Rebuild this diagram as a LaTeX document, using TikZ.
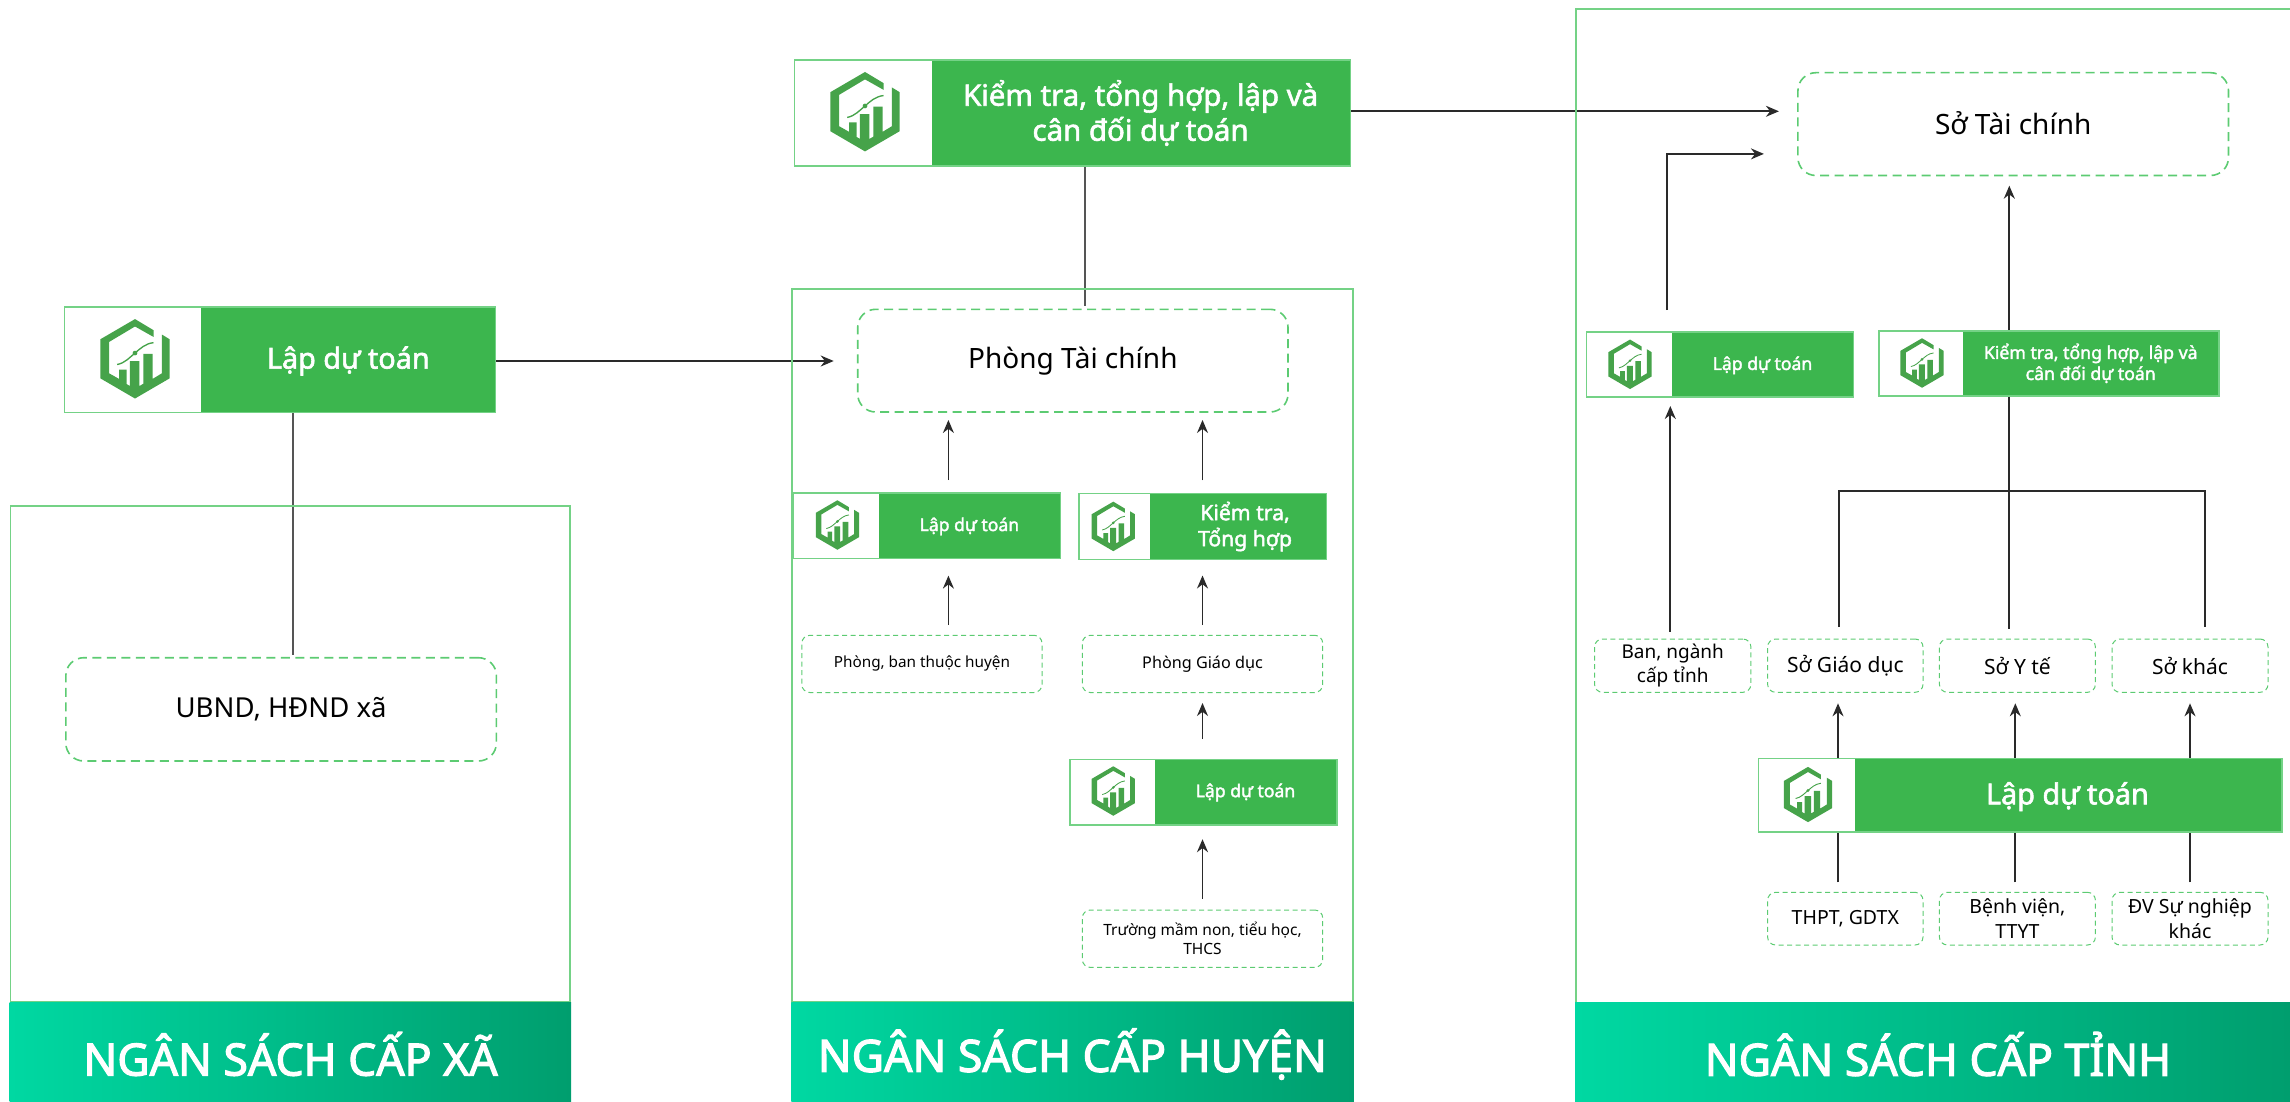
\documentclass[tikz,border=0pt]{standalone}
\usepackage{fontspec}
\setmainfont{Noto Sans}
\newfontfamily\medf[FakeBold=2]{Noto Sans}
\newfontfamily\banf[FakeBold=2.6]{Noto Sans}
\usetikzlibrary{arrows.meta,backgrounds}
\definecolor{gfill}{HTML}{3CB64E}
\definecolor{glogo}{HTML}{46A34A}
\definecolor{gline}{HTML}{74D286}
\definecolor{gdash}{HTML}{5CCB72}
\definecolor{bleft}{HTML}{00D8A2}
\definecolor{bright}{HTML}{009E6E}
\definecolor{dk}{HTML}{2A2A2A}
\definecolor{gy}{HTML}{555555}
\tikzset{
  panelbox/.style={draw=gline,line width=1.6pt,inner sep=0pt,outer sep=0pt},
  bannerbox/.style={left color=bleft,right color=bright,draw=none,inner sep=0pt,outer sep=0pt},
  bannertxt/.style={text=white,font=\banf\fontsize{44.5}{46}\selectfont,inner sep=0pt},
  stagebox/.style={fill=gfill,draw=gline,line width=1.6pt,inner sep=0pt,outer sep=0pt},
  whitebox/.style={fill=white,draw=none,inner sep=0pt,outer sep=0pt},
  stagetxt/.style={text=white,align=center,inner sep=0pt},
  dashbig/.style={draw=gdash,line width=1.6pt,rounded corners=18pt,dash pattern=on 9pt off 5.5pt,inner sep=0pt,outer sep=0pt,align=center},
  dashsmall/.style={draw=gdash,line width=1pt,rounded corners=8pt,dash pattern=on 5pt off 3.5pt,inner sep=0pt,outer sep=0pt,align=center},
  arr/.style={draw=dk,line width=1.7pt,-{Stealth[length=13pt,width=11pt]}},
  plain/.style={draw=gy,line width=2pt},
  plaind/.style={draw=dk,line width=1.8pt},
}
\newcommand\rectat[6]{\node[#6,minimum width={((#4)-(#2))*1pt},minimum height={((#5)-(#3))*1pt}] (#1) at ({((#2)+(#4))/2},{((#3)+(#5))/2}) {};}
\newcommand\logomark[3]{%
  \begin{scope}[shift={(#1,#2)},scale={#3/205},shift={(-165,-140)}]
    \fill[glogo] (165,22) -- (220,55) -- (220,75) -- (165,44) -- (88,90) -- (88,183) -- (118,200) -- (118,172) -- (140,172) -- (140,215) -- (150,221) -- (150,147) -- (178,147) -- (178,221) -- (190,214) -- (190,125) -- (217,125) -- (217,200) -- (245,183) -- (245,68) -- (268,82) -- (268,198) -- (165,258) -- (62,198) -- (62,82) -- cycle;
    \draw[glogo,line width={#3/205*4pt}] (112,157) .. controls (135,153) and (150,135) .. (165,123) .. controls (180,110) and (195,95) .. (220,92);
    \fill[glogo] (165,123) circle (7);
  \end{scope}}
\newcommand\stage[9]{%
  \rectat{#1}{#2}{#3}{#4}{#5}{stagebox}
  \rectat{#1-w}{#2+0.8}{#3+0.8}{#6}{#5-0.8}{whitebox}
  \logomark{#7}{#8}{#9}}
\newcommand\dbox[8]{\node[#6,font=#7,minimum width={((#4)-(#2))*1pt},minimum height={((#5)-(#3))*1pt}] (#1) at ({((#2)+(#4))/2},{((#3)+(#5))/2}) {#8};}
\newcommand\fs[2]{\fontsize{#1}{#2}\selectfont}
\newcommand\dn[1]{\raisebox{-2pt}{#1}}
\begin{document}
\begin{tikzpicture}[x=1pt,y=-1pt]
\useasboundingbox (0,0) rectangle (2290,1102);
% panels
\rectat{pxa}{10.3}{505.7}{570.2}{1002}{panelbox}
\rectat{phu}{792.2}{289}{1353}{1002}{panelbox}
\draw[draw=gline,line width=2pt] (2290,9) -- (1576.3,9) -- (1576.3,1002);
% banners
\rectat{bxa}{9.5}{1002}{571}{1102}{bannerbox}
\rectat{bhu}{791.4}{1002}{1353.8}{1102}{bannerbox}
\rectat{bti}{1575}{1002}{2290}{1102}{bannerbox}
\node[bannertxt] (bxa-t) at (290.6,1054) {NGÂN SÁCH CẤP XÃ};
\node[bannertxt] (bhu-t) at (1072.4,1054) {NGÂN SÁCH CẤP HUYỆN};
\node[bannertxt] (bti-t) at (1938,1054) {NGÂN SÁCH CẤP TỈNH};
% stage boxes
\stage{lapxa}{64.3}{306.7}{495.6}{412.3}{201.3}{135}{358.8}{69}
\node[stagetxt,font=\medf\fs{28.8}{32}] (lapxa-t) at (348.3,361) {Lập dự toán};
\stage{kthop}{794.5}{60}{1350.6}{166}{932}{865}{111.7}{69}
\node[stagetxt,font=\medf\fs{29.4}{35}] (kthop-t) at (1140.6,113) {Kiểm tra, tổng hợp, lập và\\cân đối dự toán};
\stage{lap1}{793.4}{493}{1060.5}{558.3}{878.7}{837.4}{525}{43}
\node[stagetxt,font=\medf\fs{17.6}{21}] (lap1-t) at (969.4,526.4) {Lập dự toán};
\stage{ktra}{1078.9}{493.4}{1326.5}{559.5}{1149.7}{1113.3}{526.4}{43}
\node[stagetxt,font=\medf\fs{21.2}{26}] (ktra-t) at (1245,526.5) {Kiểm tra,\\Tổng hợp};
\stage{lap3}{1069.7}{759.4}{1336.8}{824.7}{1154.7}{1113.3}{791}{43}
\node[stagetxt,font=\medf\fs{17.6}{21}] (lap3-t) at (1245.5,792.5) {Lập dự toán};
\stage{lapS}{1586.5}{332.2}{1853.3}{397}{1671.7}{1630}{364.3}{43}
\node[stagetxt,font=\medf\fs{17.6}{21}] (lapS-t) at (1762.5,365.3) {Lập dự toán};
\stage{kts}{1878.9}{331}{2219.2}{396}{1963.2}{1922}{363}{43}
\node[stagetxt,font=\medf\fs{17.7}{21}] (kts-t) at (2090.7,363.3) {Kiểm tra, tổng hợp, lập và\\cân đối dự toán};
\stage{lapB}{1758.3}{758.3}{2282}{831.7}{1854.7}{1808}{794.5}{48}
\node[stagetxt,font=\medf\fs{28.8}{32}] (lapB-t) at (2067.4,796.7) {Lập dự toán};
% dashed boxes
\dbox{ubnd}{65.8}{657.7}{496.4}{761}{dashbig}{\fs{27.5}{34}}{UBND, HĐND xã}
\dbox{phongtc}{857.7}{309.3}{1288}{412}{dashbig}{\fs{28}{34}}{Phòng Tài chính}
\dbox{sotc}{1797.9}{72.7}{2228.5}{175.5}{dashbig}{\fs{28}{34}}{\raisebox{1.5pt}{Sở Tài chính}}
\dbox{pban}{801.8}{635.3}{1042}{692.5}{dashsmall}{\fs{15.3}{19}}{\dn{Phòng, ban thuộc huyện}}
\dbox{pgd}{1082.3}{635.3}{1322.7}{692.5}{dashsmall}{\fs{16.2}{19}}{\dn{Phòng Giáo dục}}
\dbox{truong}{1082.3}{910}{1322.7}{967.4}{dashsmall}{\fs{15.5}{19}}{Trường mầm non, tiểu học,\\THCS}
\dbox{ban}{1594.5}{639}{1750.9}{692.3}{dashsmall}{\fs{19}{24.3}}{Ban, ngành\\cấp tỉnh}
\dbox{sogd}{1767.6}{639}{1923}{692.3}{dashsmall}{\fs{21}{24.3}}{Sở Giáo dục}
\dbox{soy}{1939.4}{639}{2095.4}{692.3}{dashsmall}{\fs{21}{24.3}}{Sở Y tế}
\dbox{sok}{2112}{639}{2268}{692.3}{dashsmall}{\fs{21}{24.3}}{Sở khác}
\dbox{thpt}{1767.6}{892.3}{1923}{945}{dashsmall}{\fs{19.5}{24.3}}{\dn{THPT, GDTX}}
\dbox{bv}{1939.4}{892.3}{2095.4}{945}{dashsmall}{\fs{19.5}{24.3}}{Bệnh viện,\\TTYT}
\dbox{dv}{2112}{892.3}{2268}{945}{dashsmall}{\fs{19.5}{24.3}}{ĐV Sự nghiệp\\khác}
% helper columns and rows
\coordinate (cxa) at (292.8,0);
\coordinate (cxh) at (1085,0);
\coordinate (ca) at (948.4,0);
\coordinate (cb) at (1202.5,0);
\coordinate (cc) at (1667,0);
\coordinate (cd) at (1670.3,0);
\coordinate (ce) at (1838,0);
\coordinate (cf) at (2015.3,0);
\coordinate (cg) at (2190,0);
\coordinate (ch) at (2009.3,0);
\coordinate (ci) at (1839.3,0);
\coordinate (cj) at (2205.3,0);
\coordinate (r1) at (0,361);
\coordinate (r2) at (0,111.3);
\coordinate (r3) at (0,153.9);
\coordinate (r4) at (0,491);
\begin{scope}[on background layer]
  \draw[plain,shorten >=2.7pt] (cxa |- lapxa.south) -- (cxa |- ubnd.north);
  \draw[plain,shorten >=3pt] (cxh |- kthop.south) -- (cxh |- phongtc.north);
  \draw[arr,shorten >=24pt] (lapxa.east |- r1) -- (phongtc.west |- r1);
  \draw[arr,shorten >=19pt] (kthop.east |- r2) -- (sotc.west |- r2);
  \draw[arr,shorten <=13pt,shorten >=8pt] (ca |- lap1.north) -- (ca |- phongtc.south);
  \draw[arr,shorten <=13pt,shorten >=8pt] (cb |- ktra.north) -- (cb |- phongtc.south);
  \draw[arr,shorten <=10.3pt,shorten >=17.3pt] (ca |- pban.north) -- (ca |- lap1.south);
  \draw[arr,shorten <=10.3pt,shorten >=16pt] (cb |- pgd.north) -- (cb |- ktra.south);
  \draw[arr,shorten <=20.4pt,shorten >=10.5pt] (cb |- lap3.north) -- (cb |- pgd.south);
  \draw[arr,shorten <=11.5pt,shorten >=14.5pt] (cb |- truong.north) -- (cb |- lap3.south);
  \draw[arr,shorten <=10.4pt,shorten >=10.2pt] (ch |- soy.north) -- (ch |- sotc.south);
  \draw[plaind,shorten <=12pt,shorten >=12pt] (ci |- sogd.north) -- (ci |- r4) -- (cj |- r4) -- (cj |- sok.north);
  \draw[arr,shorten <=22pt,shorten >=34pt] (cc |- lapS.north) -- (cc |- r3) -- (sotc.west |- r3);
  \draw[arr,shorten <=7.2pt,shorten >=9pt] (cd |- ban.north) -- (cd |- lapS.south);
  \draw[arr,shorten <=10pt,shorten >=11pt] (ce |- thpt.north) -- (ce |- sogd.south);
  \draw[arr,shorten <=10pt,shorten >=11pt] (cf |- bv.north) -- (cf |- soy.south);
  \draw[arr,shorten <=10pt,shorten >=11pt] (cg |- dv.north) -- (cg |- sok.south);
\end{scope}
\end{tikzpicture}
\end{document}
